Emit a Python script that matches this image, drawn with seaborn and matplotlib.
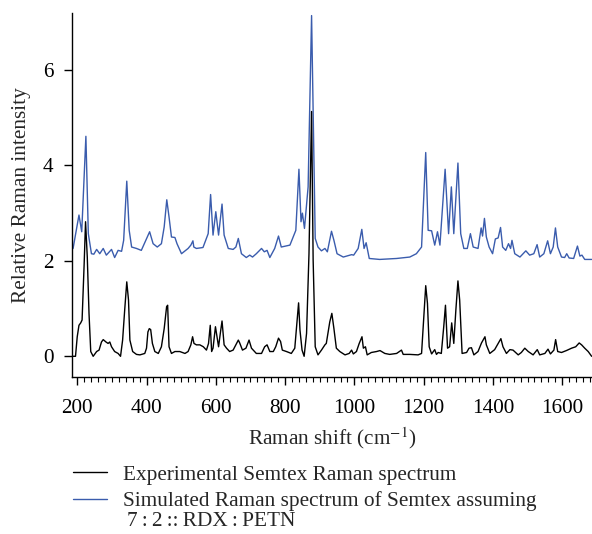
import numpy as np
import pandas as pd
import matplotlib
matplotlib.use('Agg')
import matplotlib.pyplot as plt
from matplotlib.lines import Line2D
from matplotlib.ticker import MultipleLocator
import seaborn as sns

# Experimental spectrum, vertices (cm^-1, relative intensity)
exp_shift = [188, 195, 200, 205, 210, 214, 220, 224, 229, 234, 239, 246, 256, 263, 270, 275,
             283, 289, 294, 299, 308, 318, 325, 331, 337, 343, 348, 352, 360, 371, 381, 395,
             400, 404, 408, 412, 417, 424, 434, 443, 451, 458, 461, 465, 472, 482, 496, 511,
             520, 528, 533, 537, 544, 554, 564, 573, 579, 584, 588, 592, 599, 608, 613, 618,
             624, 631, 640, 650, 665, 669, 677, 687, 696, 703, 717, 732, 741, 748, 756, 766,
             773, 781, 787, 792, 804, 818, 828, 835, 839, 843, 849, 855, 862, 869, 876.5, 881,
             887, 895, 905, 915, 919, 929, 935, 941, 948, 958, 973, 985, 992, 997, 1006,
             1014, 1022, 1026, 1032, 1037, 1049, 1064, 1074, 1088, 1102, 1122, 1136, 1141,
             1160, 1184, 1194, 1200, 1206, 1211, 1216, 1223, 1232, 1237, 1242, 1251, 1258,
             1263, 1269, 1275, 1281, 1287, 1293, 1299, 1304, 1311, 1324, 1331, 1338, 1345,
             1357, 1367, 1377, 1381, 1391, 1405, 1415, 1423, 1429, 1439, 1449, 1458, 1473,
             1482, 1492, 1502, 1516, 1528, 1535, 1550, 1559, 1566, 1576, 1581, 1587, 1598,
             1612, 1627, 1639, 1649, 1656, 1665, 1675, 1685]
exp_intensity = [0.0, 0.0, 0.41, 0.65, 0.70, 0.76, 1.94, 2.82, 2.08, 0.90, 0.10, 0.0, 0.10, 0.13,
                 0.30, 0.35, 0.30, 0.27, 0.30, 0.20, 0.10, 0.06, 0.0, 0.34, 0.97, 1.56, 1.18,
                 0.34, 0.10, 0.04, 0.03, 0.06, 0.17, 0.51, 0.58, 0.56, 0.27, 0.10, 0.06, 0.20,
                 0.58, 1.04, 1.07, 0.20, 0.06, 0.10, 0.10, 0.06, 0.10, 0.24, 0.41, 0.27, 0.24,
                 0.24, 0.20, 0.13, 0.27, 0.65, 0.10, 0.17, 0.62, 0.20, 0.48, 0.74, 0.24, 0.17,
                 0.10, 0.13, 0.34, 0.28, 0.13, 0.17, 0.34, 0.17, 0.06, 0.06, 0.20, 0.24, 0.10,
                 0.10, 0.20, 0.38, 0.31, 0.13, 0.10, 0.06, 0.17, 0.76, 1.12, 0.55, 0.13, 0.0,
                 0.48, 2.15, 5.13, 2.02, 0.20, 0.03, 0.13, 0.24, 0.27, 0.72, 0.90, 0.58, 0.17,
                 0.10, 0.03, 0.06, 0.13, 0.05, 0.10, 0.27, 0.41, 0.17, 0.20, 0.03, 0.08, 0.10,
                 0.12, 0.06, 0.04, 0.06, 0.13, 0.04, 0.04, 0.03, 0.06, 0.76, 1.48, 1.11, 0.20,
                 0.05, 0.14, 0.04, 0.08, 0.06, 0.62, 1.07, 0.17, 0.20, 0.70, 0.27, 0.97, 1.58,
                 1.18, 0.06, 0.08, 0.17, 0.18, 0.03, 0.10, 0.28, 0.41, 0.24, 0.06, 0.14, 0.27,
                 0.37, 0.20, 0.06, 0.14, 0.13, 0.03, 0.08, 0.17, 0.10, 0.03, 0.14, 0.03, 0.06,
                 0.15, 0.05, 0.13, 0.35, 0.10, 0.08, 0.12, 0.17, 0.20, 0.28, 0.24, 0.17, 0.10,
                 0.0]

# Simulated spectrum (offset by +2 in the original figure)
sim_shift = [188, 205, 213, 225, 232, 241, 248, 256, 265, 275, 284, 299, 308, 318, 328, 334,
             343, 350, 357, 371, 385, 398, 409, 419, 431, 443, 451, 458.5, 465, 472, 482, 488,
             501, 520, 528, 534, 536.5, 544, 563, 578, 585, 592, 600, 608, 618, 624, 636, 650,
             658, 665, 674, 688, 698, 706, 717, 732, 740, 748, 756, 770, 781, 789, 814, 831,
             840, 846, 850, 856, 866.5, 876.5, 887, 895, 905, 915, 922, 934, 941, 950, 968,
             992, 998, 1011, 1021.5, 1028, 1034, 1043, 1073, 1122, 1160, 1179, 1194, 1206,
             1213, 1223, 1232, 1240, 1247, 1262, 1272, 1280, 1287, 1299, 1307, 1316, 1326,
             1335, 1343, 1357, 1366, 1370, 1375.5, 1381, 1389, 1399, 1407, 1415, 1422, 1428,
             1437, 1445, 1451, 1455, 1463, 1478, 1495, 1506, 1518, 1527.5, 1535, 1547, 1558,
             1566, 1574, 1580.5, 1587, 1598, 1607, 1613, 1620, 1633, 1644, 1651, 1657, 1665,
             1685]
sim_intensity = [2.26, 2.96, 2.61, 4.61, 2.57, 2.15, 2.14, 2.24, 2.15, 2.26, 2.12, 2.24, 2.07,
                 2.22, 2.20, 2.43, 3.67, 2.64, 2.29, 2.26, 2.22, 2.43, 2.61, 2.36, 2.29, 2.36,
                 2.71, 3.28, 2.92, 2.50, 2.49, 2.36, 2.15, 2.26, 2.33, 2.42, 2.29, 2.26, 2.28,
                 2.57, 3.39, 2.54, 3.03, 2.54, 3.19, 2.54, 2.26, 2.24, 2.29, 2.47, 2.15, 2.07,
                 2.12, 2.08, 2.15, 2.26, 2.19, 2.22, 2.07, 2.26, 2.52, 2.29, 2.33, 2.64, 3.92,
                 2.82, 3.00, 2.68, 3.55, 7.14, 2.47, 2.29, 2.21, 2.26, 2.19, 2.62, 2.43, 2.15,
                 2.08, 2.13, 2.12, 2.26, 2.66, 2.26, 2.38, 2.05, 2.03, 2.05, 2.08, 2.15, 2.29,
                 4.27, 2.64, 2.63, 2.33, 2.61, 2.33, 3.92, 2.57, 3.55, 2.57, 4.05, 2.57, 2.26,
                 2.26, 2.57, 2.29, 2.26, 2.69, 2.52, 2.89, 2.50, 2.29, 2.15, 2.46, 2.48, 2.70,
                 2.29, 2.22, 2.36, 2.26, 2.43, 2.15, 2.08, 2.21, 2.12, 2.15, 2.34, 2.08, 2.15,
                 2.42, 2.15, 2.29, 2.69, 2.29, 2.08, 2.07, 2.15, 2.06, 2.05, 2.31, 2.10, 2.12,
                 2.03, 2.03]

x_major = [200, 400, 600, 800, 1000, 1200, 1400, 1600]
y_major = [0, 2, 4, 6]

exp_label = 'Experimental Semtex Raman spectrum'
sim_label = 'Simulated Raman spectrum of Semtex assuming'
ratio_label = '7\u2009:\u20092\u2009::\u2009RDX\u2009:\u2009PETN'

exp_df = pd.DataFrame({'shift': exp_shift, 'intensity': exp_intensity})
sim_df = pd.DataFrame({'shift': sim_shift, 'intensity': sim_intensity})

sns.set_style('ticks')
plt.rcParams['font.family'] = ['Liberation Serif', 'DejaVu Serif']
plt.rcParams['mathtext.fontset'] = 'stix'

fs = 15.3
blue = '#3a5cad'
fig = plt.figure(figsize=(5.92, 5.34), dpi=100)
ax = fig.add_axes([0.1211, 0.2946, 0.8789, 0.6816])

# simulated first so the experimental line sits on top, as in the original
sns.lineplot(data=sim_df, x='shift', y='intensity', ax=ax, color=blue, lw=1.0,
             estimator=None, sort=False)
sns.lineplot(data=exp_df, x='shift', y='intensity', ax=ax, color='black', lw=1.0,
             estimator=None, sort=False)

ax.set_xlim(184, 1686)
ax.set_ylim(-0.427, 7.2)
ax.set_xticks(x_major)
ax.xaxis.set_minor_locator(MultipleLocator(20))
ax.set_yticks(y_major)
ax.tick_params(axis='both', which='major', direction='out', width=1.0, colors='black',
               labelsize=fs)
ax.tick_params(axis='x', which='major', length=5.5, pad=10.5)
ax.tick_params(axis='x', which='minor', length=3.4, width=0.8, color='black')
ax.tick_params(axis='y', which='major', length=6, pad=7)
sns.despine(ax=ax)
for s in ['left', 'bottom']:
    ax.spines[s].set_color('black')
    ax.spines[s].set_linewidth(1.0)

ax.set_xlabel('Raman shift (cm$^{-1}$)', fontsize=fs, labelpad=5)
ax.set_ylabel('Relative Raman intensity', fontsize=fs, labelpad=9)

handles = [Line2D([], [], color='black', lw=1.0),
           Line2D([], [], color=blue, lw=1.0)]
fig.legend(handles, [exp_label, sim_label], loc='upper left',
           bbox_to_anchor=(0.123, 1 - 465 / 534), frameon=False, fontsize=fs,
           handlelength=1.6, handletextpad=0.75, labelspacing=0.3, borderpad=0,
           borderaxespad=0)
fig.text(127 / 592, 1 - 521 / 534, ratio_label, fontsize=fs, va='center', ha='left')

fig.savefig('out.png', dpi=100)
